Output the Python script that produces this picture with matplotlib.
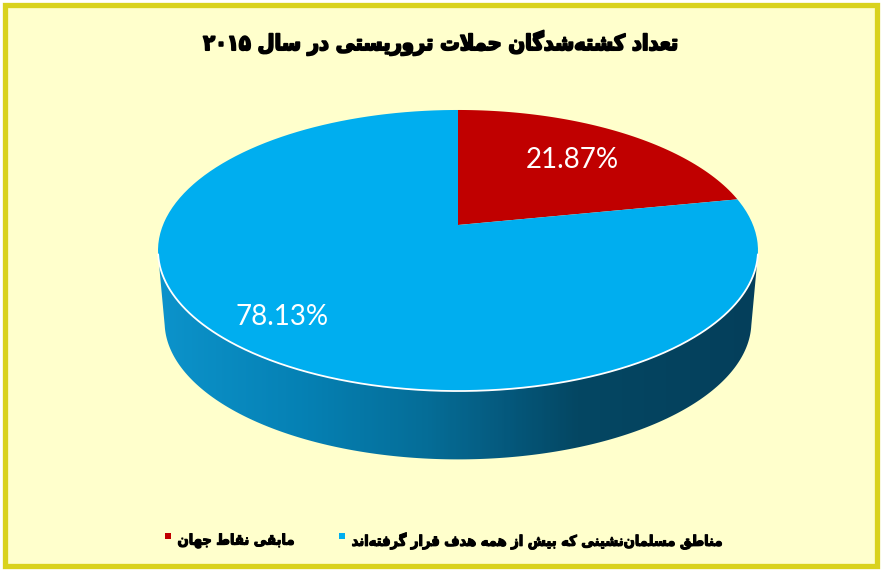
import numpy as np
import matplotlib
matplotlib.use("Agg")
import matplotlib.pyplot as plt
from matplotlib.colors import LinearSegmentedColormap
from matplotlib.patches import PathPatch, Rectangle
from matplotlib.path import Path
from matplotlib.transforms import Affine2D
import matplotlib.patheffects as pe

TITLE = "تعداد کشته\u200cشدگان حملات تروریستی در سال ۲۰۱۵"
categories = ["مابقی نقاط جهان", "مناطق مسلمان\u200cنشینی که بیش از همه هدف قرار گرفته\u200cاند"]
shares = [21.87, 78.13]
value_labels = ["21.87%", "78.13%"]
colors = ["#C00000", "#00AEEF"]

# ---- minimal Arabic/Persian shaping (matplotlib has no bidi or joining)
FORMS = {  # isolated, final, initial, medial
    'ا': (0xFE8D, 0xFE8E, None, None), 'ب': (0xFE8F, 0xFE90, 0xFE91, 0xFE92),
    'ت': (0xFE95, 0xFE96, 0xFE97, 0xFE98), 'ج': (0xFE9D, 0xFE9E, 0xFE9F, 0xFEA0),
    'ح': (0xFEA1, 0xFEA2, 0xFEA3, 0xFEA4), 'د': (0xFEA9, 0xFEAA, None, None),
    'ر': (0xFEAD, 0xFEAE, None, None), 'ز': (0xFEAF, 0xFEB0, None, None),
    'س': (0xFEB1, 0xFEB2, 0xFEB3, 0xFEB4), 'ش': (0xFEB5, 0xFEB6, 0xFEB7, 0xFEB8),
    'ط': (0xFEC1, 0xFEC2, 0xFEC3, 0xFEC4), 'ع': (0xFEC9, 0xFECA, 0xFECB, 0xFECC),
    'ف': (0xFED1, 0xFED2, 0xFED3, 0xFED4), 'ق': (0xFED5, 0xFED6, 0xFED7, 0xFED8),
    'ل': (0xFEDD, 0xFEDE, 0xFEDF, 0xFEE0), 'م': (0xFEE1, 0xFEE2, 0xFEE3, 0xFEE4),
    'ن': (0xFEE5, 0xFEE6, 0xFEE7, 0xFEE8), 'ه': (0xFEE9, 0xFEEA, 0xFEEB, 0xFEEC),
    'و': (0xFEED, 0xFEEE, None, None), 'ک': (0xFB8E, 0xFB8F, 0xFB90, 0xFB91),
    'گ': (0xFB92, 0xFB93, 0xFB94, 0xFB95), 'ی': (0xFBFC, 0xFBFD, 0xFBFE, 0xFBFF),
}
DIGITS = "۰۱۲۳۴۵۶۷۸۹"


def shape(s):
    out = []
    i = 0
    while i < len(s):
        c = s[i]
        if c == '\u200c':
            i += 1
            continue
        if c not in FORMS:
            out.append(c)
            i += 1
            continue
        prev = s[i - 1] if i else ''
        joins_prev = prev in FORMS and FORMS[prev][2] is not None
        if c == 'ل' and i + 1 < len(s) and s[i + 1] == 'ا':
            out.append(chr(0xFEFC if joins_prev else 0xFEFB))
            i += 2
            continue
        nxt = s[i + 1] if i + 1 < len(s) else ''
        joins_next = nxt in FORMS and FORMS[c][2] is not None
        iso, fin, ini, med = FORMS[c]
        code = med if joins_prev and joins_next else fin if joins_prev else ini if joins_next else iso
        out.append(chr(code))
        i += 1
    vis = ''.join(reversed(out))
    res, run = [], []
    for ch in vis:
        if ch in DIGITS:
            run.append(ch)
        else:
            res.extend(reversed(run))
            run = []
            res.append(ch)
    res.extend(reversed(run))
    return ''.join(res)


# ---- perspective projection of the unit pie onto the page
CX, CY, B, A, K = 458.0, 225.0, 295.0, 135.9, 0.1815


def project(xy, dy=0.0, scale=1.0):
    u, v = xy[:, 0], xy[:, 1]
    d = 1 + K * v
    return np.column_stack([CX + scale * B * u / d, CY + dy - scale * A * v / d])


fig = plt.figure(figsize=(8.81, 5.70), dpi=100, facecolor="white")
ax = fig.add_axes([0, 0, 1, 1])

wedges, _ = ax.pie(shares, colors=colors, startangle=90, counterclock=False,
                   wedgeprops=dict(edgecolor="none"))
ax.set_aspect("auto")
ax.set_xlim(0, 881)
ax.set_ylim(570, 0)
ax.axis("off")

# panel
ax.add_patch(Rectangle((4.5, 4.5), 872, 561, facecolor="#FFFFCC", edgecolor="#D9D21E", lw=3.8, zorder=0))

# side wall
ang = np.radians(np.linspace(258, 102, 500))  # clockwise-from-top angle, left to right round the front
unit = np.column_stack([np.sin(ang), np.cos(ang)])
top_rim = project(unit)
low_rim = project(unit, dy=72, scale=0.978)
side = Path(np.vstack([top_rim, low_rim[::-1], top_rim[:1]]), closed=True)
cmap = LinearSegmentedColormap.from_list("side", [
    (0.00, "#0C93CB"), (0.25, "#0580B3"), (0.45, "#056D97"),
    (0.58, "#05597D"), (0.70, "#044763"), (1.00, "#043F5B")])
im = ax.imshow(np.linspace(0, 1, 300)[None, :], cmap=cmap, aspect="auto",
               extent=(158, 758, 470, 240), zorder=1)
im.set_clip_path(PathPatch(side, transform=ax.transData))
ax.set_xlim(0, 881)
ax.set_ylim(570, 0)

# project the pie's own wedges
for w, col in zip(wedges, colors):
    tr = w.get_patch_transform() + Affine2D().scale(1000)
    poly = w.get_path().transformed(tr).to_polygons(closed_only=True)[0] / 1000
    w.set_visible(False)
    ax.add_patch(PathPatch(Path(project(poly), closed=True), facecolor=col,
                           edgecolor="none", zorder=2))

# white rim line along the front
ax.plot(top_rim[:, 0], top_rim[:, 1], color="white", lw=1.3, zorder=3, solid_capstyle="round")

# value labels
ax.text(572, 160, value_labels[0], color="white", fontsize=20, family="Lato", ha="center", va="center", zorder=4)
ax.text(282, 317, value_labels[1], color="white", fontsize=20, family="Lato", ha="center", va="center", zorder=4)

# title
heavy = [pe.withStroke(linewidth=1.3, foreground="black")]
ax.text(441, 43, shape(TITLE), fontsize=15.6, fontweight="bold", stretch="condensed", family="DejaVu Sans",
        ha="center", va="center", color="black", path_effects=heavy, zorder=4)

# legend
leg = [(categories[1], colors[1], 339, 351, 725), (categories[0], colors[0], 165, 180, 293)]
for name, col, sx, x0, x1 in leg:
    ax.add_patch(Rectangle((sx, 533), 6, 6, facecolor=col, edgecolor="none", zorder=4))
    ax.text((x0 + x1) / 2, 541, shape(name), fontsize=10.5, fontweight="bold", stretch="condensed", family="DejaVu Sans",
            ha="center", va="center", color="black", zorder=4,
            path_effects=[pe.withStroke(linewidth=0.8, foreground="black")])

fig.savefig("out.png", dpi=100, facecolor=fig.get_facecolor())
